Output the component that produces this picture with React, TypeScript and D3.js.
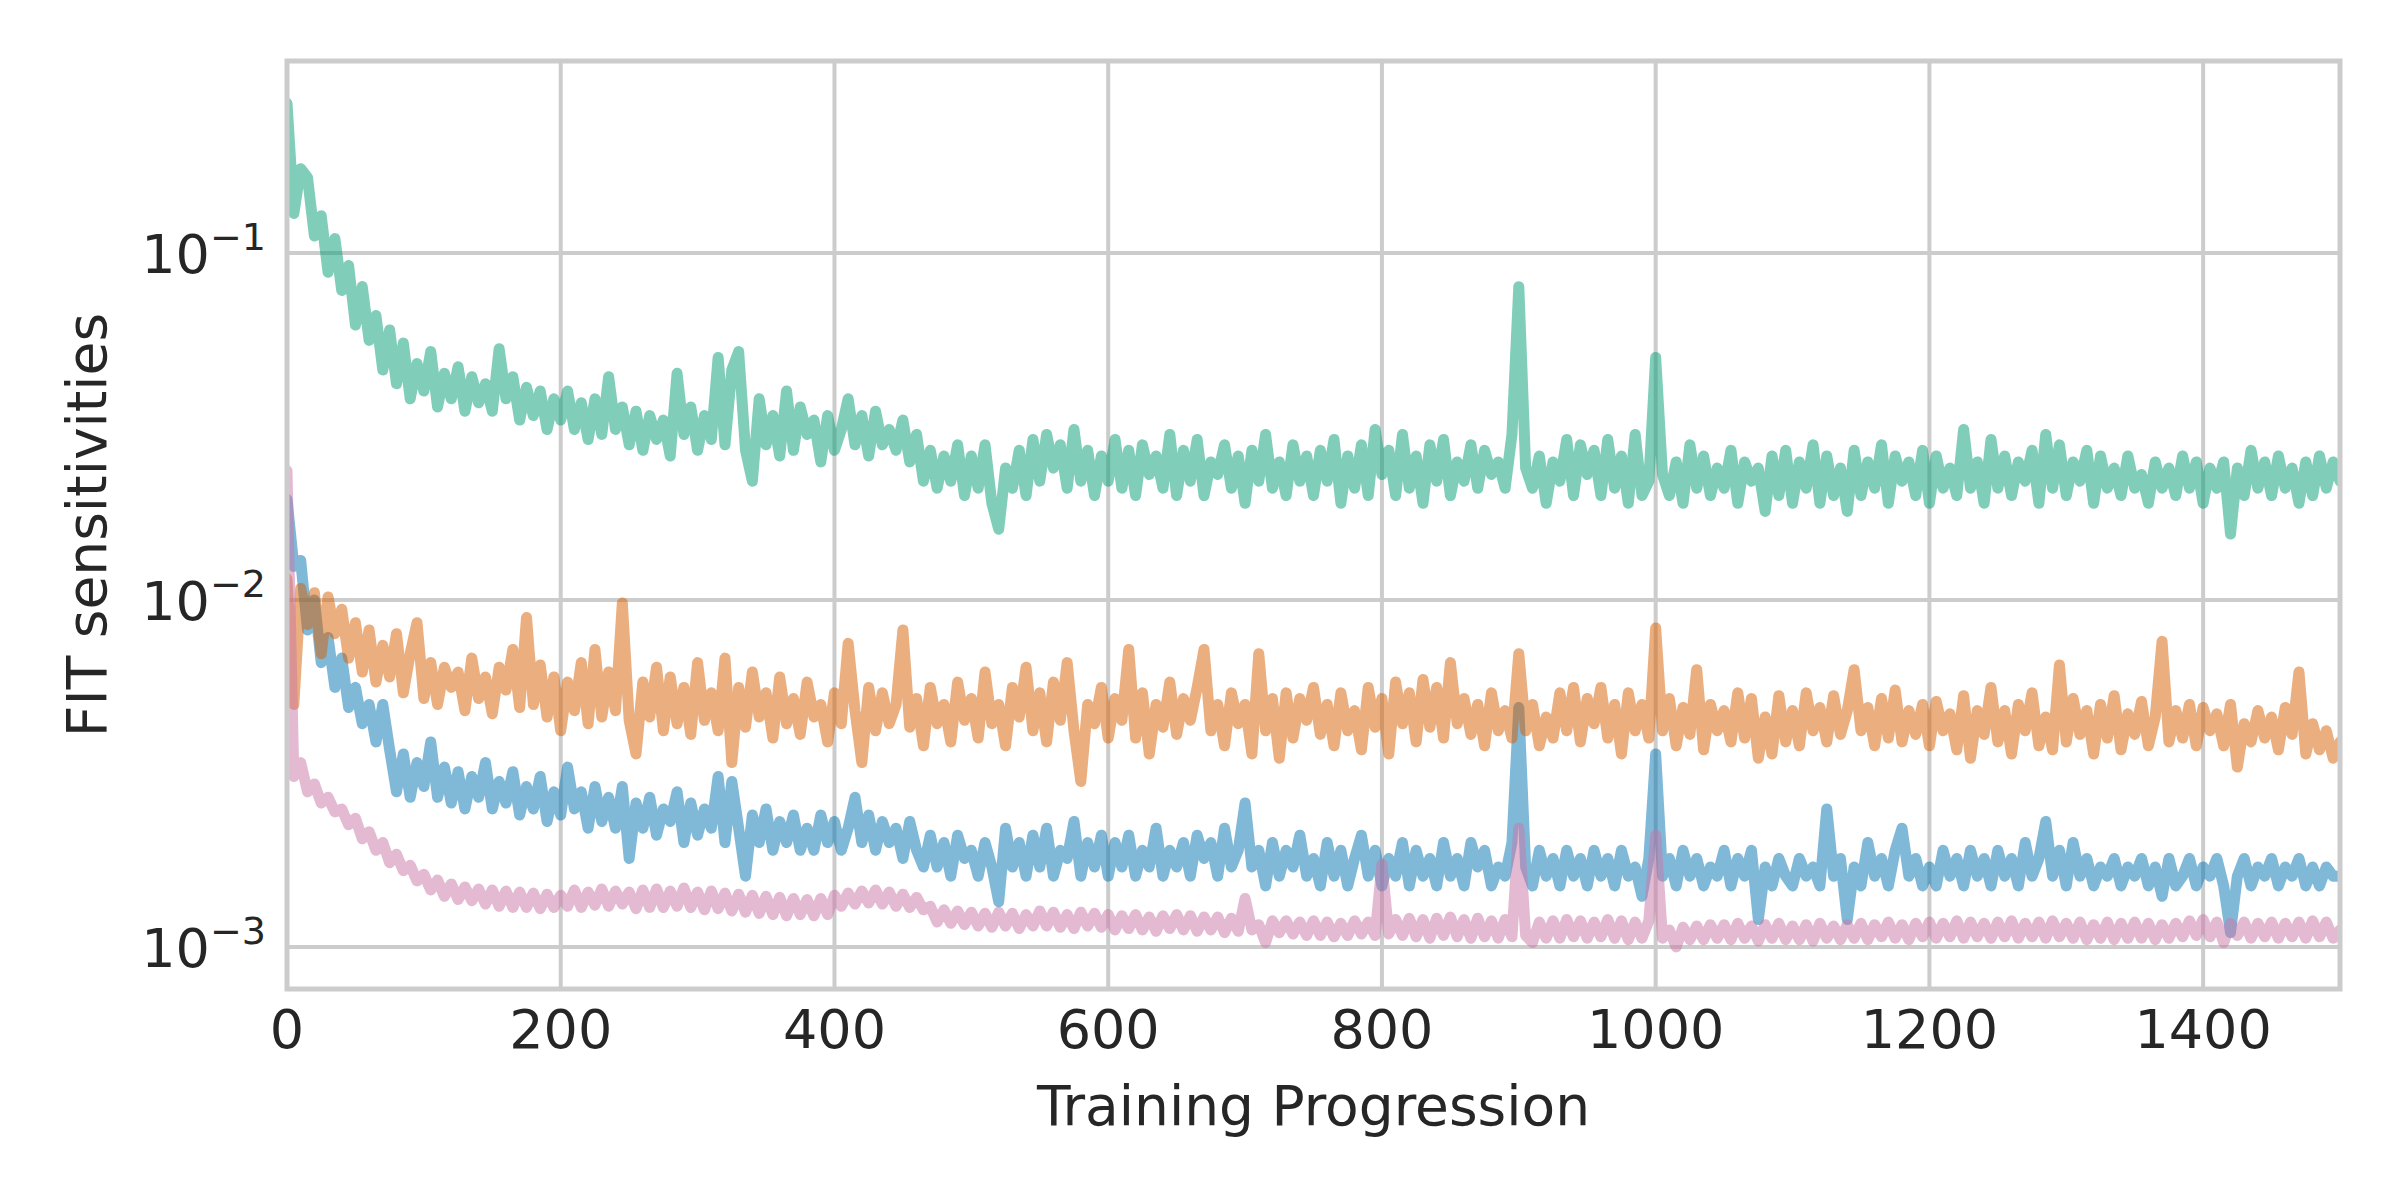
import React, { useRef, useEffect } from "react";
import * as d3 from "d3";

// training steps, one sample every 5 steps
const steps = d3.range(0, 1501, 5);

// FIT sensitivities, in units of 1e-3
const greenValues = [
  270, 130, 175, 165, 112, 128, 88, 110, 78, 92,
  62, 80, 56, 66, 46, 60, 42, 55, 38, 48,
  40, 52, 36, 45, 38, 47, 35, 44, 37, 42,
  35, 53, 38, 44, 33, 41, 34, 40, 31, 38,
  33, 40, 31, 37, 29, 38, 30, 44, 31, 36,
  28, 35, 27, 34, 29, 33, 26, 45, 30, 36,
  27, 34, 29, 50, 28, 46, 52, 27, 22, 38,
  28, 34, 26, 40, 27, 36, 30, 33, 25, 34,
  27, 31, 38, 28, 34, 26, 35, 28, 31, 27,
  33, 25, 30, 22, 27, 21, 26, 22, 28, 20,
  26, 21, 28, 19, 16, 24, 21, 27, 20, 29,
  22, 30, 24, 28, 21, 31, 22, 27, 20, 26,
  22, 29, 21, 27, 20, 28, 23, 26, 21, 30,
  20, 27, 22, 29, 20, 25, 23, 28, 21, 26,
  19, 27, 22, 30, 21, 25, 20, 28, 22, 26,
  20, 27, 22, 29, 19, 26, 21, 28, 20, 31,
  23, 27, 20, 30, 21, 26, 19, 28, 22, 29,
  20, 25, 22, 28, 21, 27, 23, 25, 21, 30,
  80, 24, 21, 26, 19, 25, 22, 29, 20, 28,
  23, 27, 20, 29, 21, 26, 19, 30, 20, 22,
  50, 23, 20, 25, 19, 28, 21, 26, 20, 24,
  21, 27, 19, 25, 22, 24, 18, 26, 20, 27,
  19, 25, 21, 28, 19, 26, 20, 24, 18, 27,
  20, 25, 21, 28, 19, 26, 22, 25, 20, 27,
  19, 26, 21, 24, 20, 31, 21, 25, 19, 29,
  21, 26, 20, 25, 22, 27, 19, 30, 21, 28,
  20, 25, 22, 27, 19, 26, 21, 24, 20, 26,
  21, 23, 19, 25, 21, 24, 20, 26, 21, 25,
  19, 24, 21, 25, 15.5, 24, 20, 27, 21, 25,
  20, 26, 21, 24, 19, 25, 20, 26, 21, 25,
  22,
];

const orangeValues = [
  11.5, 5.0, 10.8, 8.5, 10.5, 7.0, 10.2, 8.0, 9.4, 6.8,
  8.6, 6.2, 8.2, 5.8, 7.4, 6.0, 8.0, 5.4, 7.0, 8.6,
  5.2, 6.6, 5.0, 6.4, 5.6, 6.2, 4.8, 6.8, 5.2, 6.0,
  4.7, 6.4, 5.5, 7.2, 4.9, 8.9, 5.0, 6.5, 4.6, 6.0,
  4.2, 5.8, 4.8, 6.6, 4.4, 7.2, 4.6, 6.2, 4.8, 9.8,
  4.5, 3.6, 5.8, 4.6, 6.4, 4.2, 6.0, 4.4, 5.6, 4.1,
  6.6, 4.5, 5.4, 4.2, 6.8, 3.4, 5.6, 4.3, 6.2, 4.6,
  5.4, 4.0, 6.0, 4.4, 5.2, 4.1, 5.8, 4.6, 5.0, 3.9,
  5.4, 4.4, 7.5, 4.8, 3.4, 5.6, 4.2, 5.4, 4.4, 5.0,
  8.2, 4.3, 5.2, 3.8, 5.6, 4.4, 5.0, 3.9, 5.8, 4.5,
  5.2, 4.0, 6.2, 4.4, 5.0, 3.8, 5.6, 4.6, 6.4, 4.2,
  5.4, 3.9, 5.8, 4.5, 6.6, 4.2, 3.0, 5.0, 4.4, 5.6,
  4.0, 5.2, 4.5, 7.2, 4.0, 5.4, 3.6, 5.0, 4.3, 5.8,
  4.1, 5.2, 4.5, 5.6, 7.2, 4.2, 5.0, 3.8, 5.4, 4.4,
  5.0, 3.6, 7.0, 4.2, 5.2, 3.5, 5.4, 4.0, 5.2, 4.5,
  5.6, 4.1, 5.0, 3.8, 5.4, 4.2, 4.8, 3.7, 5.6, 4.3,
  5.2, 3.6, 5.8, 4.4, 5.4, 3.9, 5.9, 4.3, 5.6, 4.0,
  6.6, 4.4, 5.2, 4.1, 5.0, 3.8, 5.4, 4.2, 4.8, 4.0,
  7.0, 4.2, 5.0, 3.8, 4.6, 4.0, 5.4, 4.2, 5.6, 3.9,
  5.2, 4.4, 5.6, 4.0, 5.0, 3.6, 5.4, 4.2, 5.0, 4.0,
  8.3, 4.2, 5.2, 3.8, 4.9, 4.1, 6.3, 3.7, 5.0, 4.2,
  4.8, 3.9, 5.4, 4.0, 5.2, 3.5, 4.6, 3.6, 5.3, 3.9,
  4.8, 3.8, 5.4, 4.2, 4.9, 3.9, 5.3, 4.1, 4.8, 6.3,
  4.2, 4.9, 3.8, 5.2, 4.0, 5.5, 3.9, 4.8, 4.1, 5.0,
  3.8, 5.1, 4.2, 4.7, 3.7, 5.3, 3.5, 4.8, 4.1, 5.6,
  3.9, 4.8, 3.6, 5.0, 4.2, 5.4, 3.8, 4.6, 3.7, 6.5,
  3.9, 5.2, 4.1, 4.8, 3.6, 5.0, 4.0, 5.3, 3.7, 4.7,
  4.1, 5.1, 3.8, 4.6, 7.6, 3.9, 4.8, 4.0, 5.0, 3.8,
  4.9, 4.2, 4.7, 3.8, 5.0, 3.3, 4.4, 3.9, 4.8, 4.0,
  4.6, 3.7, 4.9, 4.1, 6.2, 3.6, 4.4, 3.7, 4.2, 3.5,
  3.9,
];

const blueValues = [
  19.5, 12.5, 13.0, 8.2, 10.0, 6.6, 7.8, 5.6, 6.8, 4.9,
  5.6, 4.4, 5.0, 3.9, 5.0, 3.7, 2.8, 3.6, 2.7, 3.4,
  2.9, 3.9, 2.7, 3.3, 2.6, 3.2, 2.5, 3.1, 2.7, 3.4,
  2.5, 3.0, 2.6, 3.2, 2.4, 2.9, 2.5, 3.1, 2.3, 2.8,
  2.4, 3.3, 2.5, 2.8, 2.2, 2.9, 2.3, 2.7, 2.2, 2.9,
  1.8, 2.6, 2.2, 2.7, 2.1, 2.5, 2.3, 2.8, 2.0, 2.6,
  2.1, 2.5, 2.2, 3.1, 2.0, 3.0, 2.2, 1.6, 2.4, 2.0,
  2.5, 1.9, 2.3, 2.0, 2.4, 1.9, 2.2, 1.9, 2.4, 2.0,
  2.3, 1.9, 2.2, 2.7, 2.0, 2.4, 1.9, 2.3, 2.0, 2.2,
  1.8, 2.3, 1.9, 1.7, 2.1, 1.7, 2.0, 1.6, 2.1, 1.8,
  1.9, 1.6, 2.0, 1.7, 1.35, 2.2, 1.7, 2.0, 1.6, 2.1,
  1.7, 2.2, 1.6, 1.9, 1.8, 2.3, 1.6, 2.0, 1.7, 2.1,
  1.6, 2.0, 1.7, 2.1, 1.6, 1.9, 1.7, 2.2, 1.6, 1.9,
  1.7, 2.0, 1.6, 2.1, 1.8, 2.0, 1.6, 2.2, 1.7, 1.9,
  2.6, 1.7, 1.9, 1.5, 2.0, 1.6, 1.9, 1.7, 2.1, 1.6,
  1.8, 1.5, 2.0, 1.6, 1.9, 1.5, 1.8, 2.1, 1.6, 1.9,
  1.5, 1.8, 1.6, 2.0, 1.5, 1.9, 1.6, 1.8, 1.5, 2.0,
  1.6, 1.8, 1.5, 2.0, 1.7, 1.9, 1.5, 1.7, 1.6, 2.0,
  4.9, 1.7, 1.5, 1.9, 1.6, 1.8, 1.5, 1.9, 1.6, 1.8,
  1.5, 1.9, 1.6, 1.8, 1.5, 1.9, 1.6, 1.7, 1.4, 1.8,
  3.6, 1.6, 1.8, 1.5, 1.9, 1.6, 1.8, 1.5, 1.7, 1.6,
  1.9, 1.5, 1.8, 1.6, 1.9, 1.2, 1.7, 1.5, 1.8, 1.6,
  1.5, 1.8, 1.6, 1.7, 1.5, 2.5, 1.6, 1.8, 1.2, 1.7,
  1.5, 2.0, 1.6, 1.8, 1.5, 1.9, 2.2, 1.6, 1.8, 1.5,
  1.7, 1.5, 1.9, 1.6, 1.8, 1.5, 1.9, 1.6, 1.8, 1.5,
  1.9, 1.6, 1.8, 1.5, 2.0, 1.6, 1.8, 2.3, 1.6, 1.9,
  1.5, 2.0, 1.6, 1.8, 1.5, 1.7, 1.6, 1.8, 1.5, 1.7,
  1.6, 1.8, 1.5, 1.7, 1.4, 1.8, 1.5, 1.6, 1.8, 1.5,
  1.7, 1.6, 1.8, 1.5, 1.1, 1.6, 1.8, 1.5, 1.7, 1.6,
  1.8, 1.5, 1.7, 1.6, 1.8, 1.5, 1.7, 1.5, 1.7, 1.6,
  1.6,
];

const pinkValues = [
  23.6, 3.1, 3.4, 2.8, 2.95, 2.6, 2.7, 2.45, 2.5, 2.25,
  2.35, 2.05, 2.15, 1.9, 2.0, 1.75, 1.85, 1.66, 1.72, 1.55,
  1.62, 1.46, 1.56, 1.4, 1.52, 1.37, 1.49, 1.36, 1.47, 1.33,
  1.46, 1.31, 1.45, 1.3, 1.44, 1.3, 1.43, 1.29, 1.42, 1.3,
  1.41, 1.31, 1.46, 1.3, 1.44, 1.32, 1.47, 1.31, 1.45, 1.33,
  1.44, 1.29, 1.46, 1.3, 1.47, 1.3, 1.45, 1.31, 1.48, 1.3,
  1.44, 1.28, 1.45, 1.29, 1.43, 1.27, 1.42, 1.26, 1.41, 1.25,
  1.4, 1.24, 1.39, 1.23, 1.38, 1.24, 1.37, 1.23, 1.38, 1.24,
  1.41, 1.31, 1.43, 1.33, 1.45, 1.34, 1.46, 1.33, 1.44, 1.31,
  1.42, 1.3, 1.39, 1.28, 1.31, 1.18, 1.28, 1.17, 1.27, 1.16,
  1.26, 1.15, 1.25, 1.14, 1.26, 1.15, 1.25, 1.13, 1.24, 1.15,
  1.27, 1.15, 1.26, 1.14, 1.24, 1.13, 1.26, 1.15, 1.25, 1.14,
  1.24, 1.12, 1.23, 1.13, 1.24, 1.12, 1.22, 1.11, 1.23, 1.13,
  1.24, 1.12, 1.23, 1.11, 1.22, 1.12, 1.22, 1.1, 1.21, 1.11,
  1.38, 1.12, 1.16, 1.03, 1.19, 1.1, 1.19, 1.09, 1.18, 1.08,
  1.19, 1.08, 1.18, 1.07, 1.17, 1.08, 1.19, 1.09, 1.18, 1.08,
  1.73, 1.09, 1.2, 1.08, 1.21, 1.07, 1.2, 1.06, 1.21, 1.08,
  1.22, 1.07, 1.2, 1.06, 1.21, 1.07, 1.19, 1.06, 1.2, 1.07,
  2.2, 1.08, 1.03, 1.18, 1.06, 1.19, 1.06, 1.2, 1.07, 1.19,
  1.06, 1.18, 1.07, 1.2, 1.06, 1.19, 1.05, 1.18, 1.06, 1.19,
  2.1, 1.06, 1.12, 1.0, 1.14, 1.05, 1.15, 1.05, 1.16, 1.06,
  1.16, 1.05, 1.17, 1.06, 1.15, 1.04, 1.16, 1.06, 1.17, 1.05,
  1.15, 1.05, 1.16, 1.04, 1.17, 1.06, 1.15, 1.05, 1.16, 1.06,
  1.17, 1.05, 1.16, 1.07, 1.18, 1.06, 1.16, 1.05, 1.17, 1.07,
  1.18, 1.06, 1.17, 1.07, 1.19, 1.06, 1.18, 1.07, 1.17, 1.06,
  1.18, 1.07, 1.19, 1.06, 1.17, 1.07, 1.18, 1.06, 1.19, 1.07,
  1.17, 1.06, 1.18, 1.05, 1.16, 1.06, 1.18, 1.05, 1.17, 1.06,
  1.18, 1.06, 1.17, 1.05, 1.16, 1.06, 1.17, 1.07, 1.19, 1.08,
  1.2, 1.07, 1.18, 1.03, 1.17, 1.08, 1.18, 1.06, 1.17, 1.07,
  1.18, 1.06, 1.17, 1.07, 1.18, 1.06, 1.19, 1.07, 1.18, 1.06,
  1.12,
];

const xTicks = [0, 200, 400, 600, 800, 1000, 1200, 1400];
const yTicks = [1e-3, 1e-2, 1e-1];
const yTickExponents = ["\u22123", "\u22122", "\u22121"];

const series = [
  { name: "blue", color: "#0173b2", values: blueValues },
  { name: "orange", color: "#d55e00", values: orangeValues },
  { name: "green", color: "#029e73", values: greenValues },
  { name: "pink", color: "#c975a8", values: pinkValues },
];

const width = 2400;
const height = 1200;
const margin = { top: 61, right: 60, bottom: 211, left: 287 };
const font = "'DejaVu Sans', sans-serif";
const textColor = "#262626";
const gridColor = "#cccccc";

function FitChart() {
  const svgRef = useRef<SVGSVGElement>(null);

  useEffect(() => {
    if (!svgRef.current) {
      return;
    }
    const svg = d3.select(svgRef.current);
    svg.selectAll("*").remove();

    const left = margin.left;
    const right = width - margin.right;
    const top = margin.top;
    const bottom = height - margin.bottom;

    const xScale = d3.scaleLinear().domain([0, 1500]).range([left, right]);
    const yScale = d3
      .scaleLog()
      .domain([Math.pow(10, -3.121), Math.pow(10, -0.4467)])
      .range([bottom, top]);

    svg
      .append("defs")
      .append("clipPath")
      .attr("id", "plot-clip")
      .append("rect")
      .attr("x", left)
      .attr("y", top)
      .attr("width", right - left)
      .attr("height", bottom - top);

    // grid
    const grid = svg.append("g");
    grid
      .selectAll("line.vgrid")
      .data(xTicks)
      .join("line")
      .attr("x1", (d) => xScale(d))
      .attr("x2", (d) => xScale(d))
      .attr("y1", top)
      .attr("y2", bottom)
      .attr("stroke", gridColor)
      .attr("stroke-width", 4);
    grid
      .selectAll("line.hgrid")
      .data(yTicks)
      .join("line")
      .attr("x1", left)
      .attr("x2", right)
      .attr("y1", (d) => yScale(d))
      .attr("y2", (d) => yScale(d))
      .attr("stroke", gridColor)
      .attr("stroke-width", 4);

    // lines
    const line = d3
      .line<number>()
      .x((_, i) => xScale(steps[i]))
      .y((d) => yScale(d * 1e-3));

    svg
      .append("g")
      .attr("clip-path", "url(#plot-clip)")
      .selectAll("path")
      .data(series)
      .join("path")
      .attr("d", (s) => line(s.values))
      .attr("fill", "none")
      .attr("stroke", (s) => s.color)
      .attr("stroke-opacity", 0.5)
      .attr("stroke-width", 11)
      .attr("stroke-linejoin", "round")
      .attr("stroke-linecap", "round");

    // frame
    svg
      .append("rect")
      .attr("x", left)
      .attr("y", top)
      .attr("width", right - left)
      .attr("height", bottom - top)
      .attr("fill", "none")
      .attr("stroke", gridColor)
      .attr("stroke-width", 5);

    // x tick labels
    svg
      .append("g")
      .selectAll("text")
      .data(xTicks)
      .join("text")
      .attr("x", (d) => xScale(d))
      .attr("y", 1048)
      .attr("text-anchor", "middle")
      .attr("font-family", font)
      .attr("font-size", 54)
      .attr("fill", textColor)
      .text((d) => String(d));

    // y tick labels as 10 with superscript exponent
    const yLabels = svg
      .append("g")
      .selectAll("text")
      .data(yTicks)
      .join("text")
      .attr("x", 266)
      .attr("y", (d) => yScale(d) + 20)
      .attr("text-anchor", "end")
      .attr("font-family", font)
      .attr("font-size", 54)
      .attr("fill", textColor);
    yLabels.append("tspan").text("10");
    yLabels
      .append("tspan")
      .attr("font-size", 38)
      .attr("dy", -23)
      .text((_, i) => yTickExponents[i]);

    // axis titles
    svg
      .append("text")
      .attr("x", (left + right) / 2)
      .attr("y", 1125)
      .attr("text-anchor", "middle")
      .attr("font-family", font)
      .attr("font-size", 55)
      .attr("fill", textColor)
      .text("Training Progression");

    svg
      .append("text")
      .attr("transform", `translate(106, ${(top + bottom) / 2}) rotate(-90)`)
      .attr("text-anchor", "middle")
      .attr("font-family", font)
      .attr("font-size", 55)
      .attr("fill", textColor)
      .text("FIT sensitivities");
  }, []);

  return (
    <svg
      ref={svgRef}
      width={width}
      height={height}
      style={{ position: "absolute", left: 0, top: 0, background: "#ffffff" }}
    />
  );
}

export default function App() {
  return <FitChart />;
}
